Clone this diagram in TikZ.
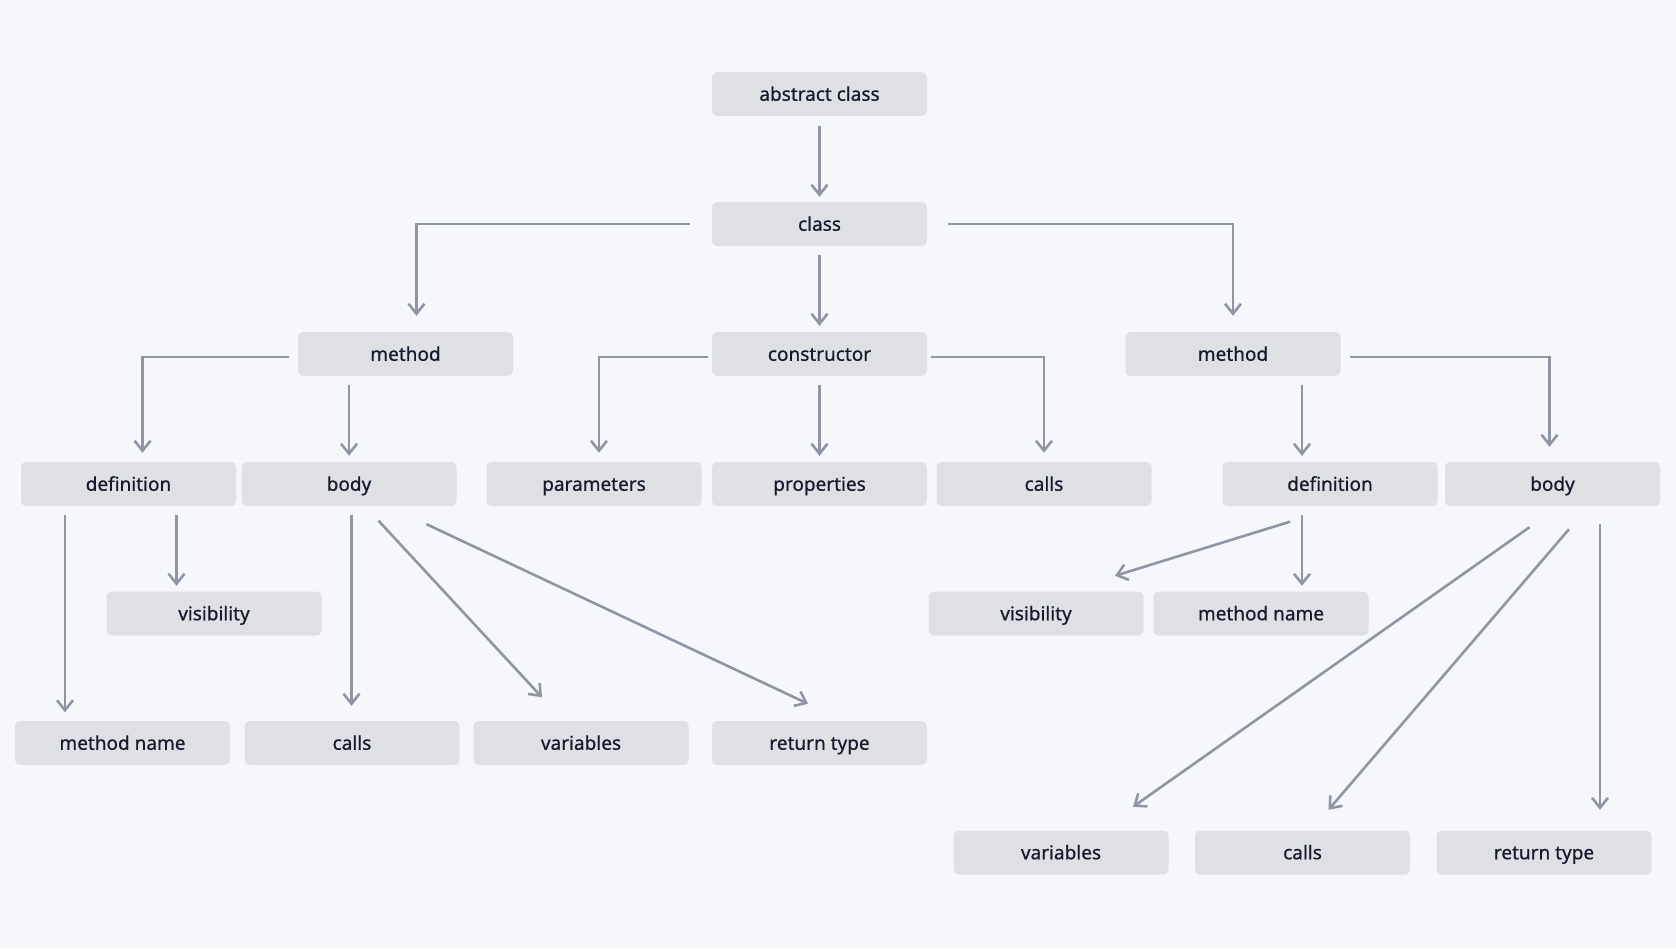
\documentclass[tikz,border=0pt]{standalone}
\usepackage{fontspec}
\setmainfont{Noto Sans}
\newfontfamily\boxfont{Noto Sans}[FakeBold=0.6]
\usetikzlibrary{arrows.meta}
\definecolor{bgcol}{HTML}{F5F7FB}
\definecolor{boxcol}{HTML}{DFE0E4}
\definecolor{txtcol}{HTML}{141A2C}
\definecolor{arrcol}{HTML}{8F96A3}
\tikzset{
  box/.style={fill=boxcol,rounded corners=5pt,minimum width=215pt,minimum height=44pt,inner sep=0pt,text height=15.5pt,text depth=2pt,text=txtcol,font=\boxfont\fontsize{19}{21}\selectfont},
  arr/.style={draw=arrcol,line width=2.6pt,-{Straight Barb[length=10pt,width=16pt]},shorten <=9pt,shorten >=6pt},
  diag/.style={arr,shorten <=0pt,shorten >=0pt},
}
\begin{document}
\begin{tikzpicture}[x=1pt,y=-1pt]
	\fill[bgcol] (0,0) rectangle (1676,948);
	\useasboundingbox (0,0) rectangle (1676,948);

	% top levels
	\node[box] (abs) at (819.5,94) {abstract class};
	\node[box] (cls) at (819.5,224) {class};
	\node[box] (mthL) at (405.5,354) {method};
	\node[box] (ctor) at (819.5,354) {constructor};
	\node[box] (mthR) at (1233,354) {method};

	% fourth row
	\node[box] (defL) at (128.5,484) {definition};
	\node[box] (bodyL) at (349,484) {body};
	\node[box] (parm) at (594,484) {parameters};
	\node[box] (prop) at (819.5,484) {properties};
	\node[box] (callsA) at (1044,484) {calls};
	\node[box] (defR) at (1330,484) {definition};
	\node[box] (bodyR) at (1552.5,484) {body};

	% lower rows
	\node[box] (visL) at (214,613.5) {visibility};
	\node[box] (visR) at (1036,613.5) {visibility};
	\node[box] (mnameR) at (1261,613.5) {method name};
	\node[box] (mnameL) at (122.5,743) {method name};
	\node[box] (callsB) at (352,743) {calls};
	\node[box] (varsA) at (581,743) {variables};
	\node[box] (retA) at (819.5,743) {return type};
	\node[box] (varsB) at (1061,852.5) {variables};
	\node[box] (callsC) at (1302.5,852.5) {calls};
	\node[box] (retB) at (1544,852.5) {return type};

	\draw[arr,shorten <=10pt,shorten >=5pt] (abs) -- (cls);
	\draw[arr] (cls) -- (ctor);
	\draw[arr,shorten <=22pt,shorten >=16pt] (cls.west) -| ([xshift=11pt]mthL.north);
	\draw[arr,shorten <=21pt,shorten >=16pt] (cls.east) -| (mthR.north);

	\draw[arr,shorten >=9pt] ([yshift=-3pt]mthL.west) -| ([xshift=14pt]defL.north);
	\draw[arr] ([xshift=-56.5pt]mthL.south) -- (bodyL.north);
	\draw[arr,shorten <=4pt,shorten >=9pt] ([yshift=-3pt]ctor.west) -| ([xshift=5pt]parm.north);
	\draw[arr] (ctor) -- (prop);
	\draw[arr,shorten <=4pt,shorten >=9pt] ([yshift=-3pt]ctor.east) -| (callsA.north);
	\draw[arr] ([xshift=69pt]mthR.south) -- ([xshift=-28pt]defR.north);
	\draw[arr,shorten >=15pt] ([yshift=-3pt]mthR.east) -| ([xshift=-3pt]bodyR.north);

	\draw[arr,shorten >=8.5pt] ([xshift=-63.5pt]defL.south) -- ([xshift=-57.5pt]mnameL.north);
	\draw[arr,shorten >=5.5pt] ([xshift=48pt]defL.south) -- ([xshift=-37.5pt]visL.north);
	\draw[arr,shorten >=15pt] ([xshift=2.5pt]bodyL.south) -- ([xshift=-0.5pt]callsB.north);
	\draw[diag] ([xshift=29.5pt,yshift=-14.5pt]bodyL.south) -- ([xshift=-39pt,yshift=23.5pt]varsA.north);
	\draw[diag] ([xshift=77.5pt,yshift=-18pt]bodyL.south) -- ([xshift=-11.5pt,yshift=17pt]retA.north);

	\draw[diag] ([xshift=-40pt,yshift=-15.5pt]defR.south) -- ([xshift=79pt,yshift=15.5pt]visR.north);
	\draw[arr,shorten >=5.5pt] ([xshift=-28pt]defR.south) -- ([xshift=41pt]mnameR.north);
	\draw[diag] ([xshift=-23pt,yshift=-21pt]bodyR.south) -- ([xshift=72pt,yshift=23.5pt]varsB.north);
	\draw[diag] ([xshift=16.5pt,yshift=-23pt]bodyR.south) -- ([xshift=26pt,yshift=20.5pt]callsC.north);
	\draw[arr,shorten <=18pt,shorten >=20.5pt] ([xshift=47.5pt]bodyR.south) -- ([xshift=56pt]retB.north);
\end{tikzpicture}
\end{document}
